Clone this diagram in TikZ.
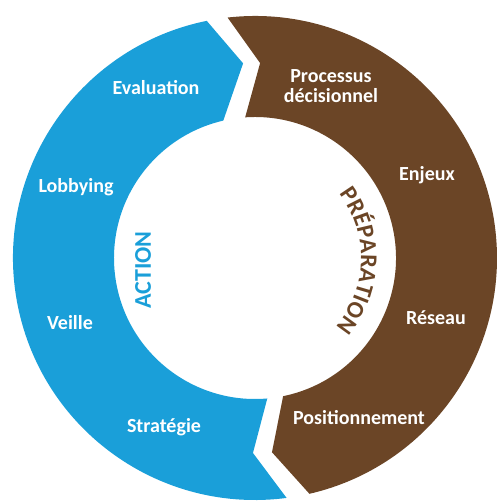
\documentclass[tikz,border=0pt]{standalone}
\usepackage{fontspec}
\setmainfont{Carlito}
\usetikzlibrary{positioning, decorations.text}
\definecolor{ringBlue}{HTML}{1A9FD9}
\definecolor{ringBrown}{HTML}{6B4526}
\tikzstyle{steplabel} =[text=white, font=\bfseries\fontsize{20}{20}\selectfont, align=center, inner sep=0pt]
\newcommand{\phasefont}{\bfseries\fontsize{24}{24}\selectfont}

\begin{document}
\begin{tikzpicture}[x=1pt, y=1pt]
\useasboundingbox (-255,-244) rectangle (241,258);

%ring halves
\fill[ringBlue] (101.5:242) arc[start angle=101.5, end angle=277.5, radius=242]
	-- (269.4:195) -- (275:141) arc[start angle=275, end angle=103, radius=141]
	-- (93.5:195) -- cycle;
\fill[ringBrown] (96.5:242) arc[start angle=96.5, end angle=-77, radius=242]
	-- (-85:195) -- (-78.5:141) arc[start angle=-78.5, end angle=94, radius=141]
	-- (88.5:195) -- cycle;

%action side
\node (evaluation) [steplabel] at (-99,170) {Evaluation};
\node (lobbying) [steplabel] at (-179,71) {Lobbying};
\node (veille) [steplabel] at (-185,-65) {Veille};
\node (strategie) [steplabel] at (-91,-169) {Stratégie};
\node (action) [rotate=90, text=ringBlue, font=\phasefont, inner sep=0pt] at (-112,-12) {ACTION};

%preparation side
\node (processus) [steplabel] at (76,172) {Processus\\décisionnel};
\node (enjeux) [steplabel] at (172,83) {Enjeux};
\node (reseau) [steplabel] at (181,-60) {Réseau};
\node (positionnement) [steplabel] at (104,-160) {Positionnement};
\path[decorate, decoration={text along path, text align=center,
	text={|\phasefont\color{ringBrown}|PRÉPARATION}}]
	(45:106) arc[start angle=45, end angle=-48, radius=106];
\end{tikzpicture}
\end{document}
